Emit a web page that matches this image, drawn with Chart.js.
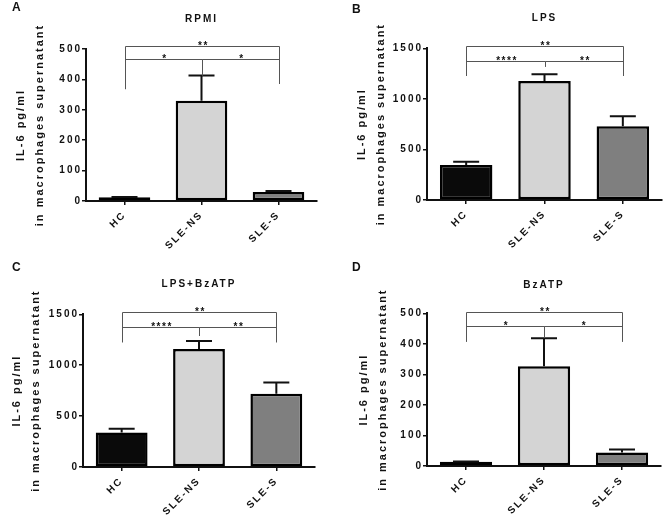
<!DOCTYPE html>
<html>
<head>
<meta charset="utf-8">
<script src="https://cdn.jsdelivr.net/npm/chart.js@4.4.1/dist/chart.umd.min.js"></script>
<style>
  body { margin: 0; background: #fff; }
  #wrap { position: relative; width: 664px; height: 524px; }
  .panel { position: absolute; width: 332px; height: 262px; }
  .tag { position: absolute; font: bold 12px "Liberation Sans", Arial, sans-serif; color: #111; }
</style>
</head>
<body>
<div id="wrap">
  <div class="panel" style="left:0;top:0"><canvas id="chartA"></canvas></div>
  <div class="panel" style="left:332px;top:0"><canvas id="chartB"></canvas></div>
  <div class="panel" style="left:0;top:262px"><canvas id="chartC"></canvas></div>
  <div class="panel" style="left:332px;top:262px"><canvas id="chartD"></canvas></div>
  <div class="tag" style="left:12px;top:0">A</div>
  <div class="tag" style="left:352px;top:2px">B</div>
  <div class="tag" style="left:12px;top:260px">C</div>
  <div class="tag" style="left:352px;top:260px">D</div>
</div>
<script>
// groups on the x axis
const groups = ["HC", "SLE-NS", "SLE-S"];
const barColors = ["#0a0a0a", "#d4d4d4", "#7f7f7f"];

// mean and SEM per panel (pg/ml)
const rpmiMean = [12, 330, 30];
const rpmiSem = [1, 83, 3];
const lpsMean = [345, 1177, 730];
const lpsSem = [33, 66, 99];
const lpsBzMean = [339, 1160, 719];
const lpsBzSem = [36, 78, 111];
const bzMean = [14, 327, 44];
const bzSem = [1, 91, 10];

// significance brackets: from/to group index, line level, drop ends
const rpmiSig = [
  { from: 0, to: 2, level: 510, dropA: 368, dropB: 385, text: "**" },
  { from: 0, to: 1, level: 466, dropA: 368, dropB: 413, text: "*" },
  { from: 1, to: 2, level: 466, dropA: 413, dropB: 385, text: "*" },
];
const lpsSig = [
  { from: 0, to: 2, level: 1526, dropA: 1226, dropB: 1226, text: "**" },
  { from: 0, to: 1, level: 1377, dropA: 1226, dropB: 1318, text: "****" },
  { from: 1, to: 2, level: 1377, dropA: 1318, dropB: 1226, text: "**" },
];
const lpsBzSig = [
  { from: 0, to: 2, level: 1520, dropA: 1225, dropB: 1225, text: "**" },
  { from: 0, to: 1, level: 1378, dropA: 1225, dropB: 1287, text: "****" },
  { from: 1, to: 2, level: 1378, dropA: 1287, dropB: 1225, text: "**" },
];
const bzSig = [
  { from: 0, to: 2, level: 505, dropA: 407, dropB: 407, text: "**" },
  { from: 0, to: 1, level: 459, dropA: 407, dropB: 420, text: "*" },
  { from: 1, to: 2, level: 459, dropA: 420, dropB: 407, text: "*" },
];

const yTitle = ["IL-6 pg/ml", "in macrophages supernatant"];
const FONT = "'Liberation Sans', Arial, sans-serif";

Chart.defaults.font.family = FONT;
Chart.defaults.color = "#111";

// prism style wide letters
const spacing = {
  id: "spacing",
  beforeLayout(chart) { chart.ctx.letterSpacing = "2px"; },
  beforeDraw(chart) { chart.ctx.letterSpacing = "2px"; },
};

const errorBars = {
  id: "errorBars",
  afterDatasetsDraw(chart) {
    const ctx = chart.ctx;
    const y = chart.scales.y;
    const ds = chart.data.datasets[0];
    ctx.save();
    ctx.strokeStyle = "#111";
    ctx.lineWidth = 2;
    chart.getDatasetMeta(0).data.forEach((bar, i) => {
      const top = y.getPixelForValue(ds.data[i] + ds.sem[i]);
      const base = y.getPixelForValue(ds.data[i]);
      ctx.beginPath();
      ctx.moveTo(bar.x, base);
      ctx.lineTo(bar.x, top);
      ctx.moveTo(bar.x - 13, top);
      ctx.lineTo(bar.x + 13, top);
      ctx.stroke();
    });
    ctx.restore();
  },
};

const sigBrackets = {
  id: "sigBrackets",
  afterDraw(chart) {
    const { ctx, scales: { x, y } } = chart;
    const sig = chart.data.datasets[0].sig;
    ctx.save();
    ctx.strokeStyle = "#555";
    ctx.lineWidth = 1;
    ctx.fillStyle = "#111";
    ctx.font = "bold 10px " + FONT;
    ctx.textAlign = "center";
    ctx.letterSpacing = "1.5px";
    sig.forEach((s) => {
      const xa = Math.round(x.getPixelForValue(s.from)) + 0.5;
      const xb = Math.round(x.getPixelForValue(s.to)) + 0.5;
      const yl = Math.round(y.getPixelForValue(s.level)) + 0.5;
      ctx.beginPath();
      ctx.moveTo(xa, y.getPixelForValue(s.dropA));
      ctx.lineTo(xa, yl);
      ctx.lineTo(xb, yl);
      ctx.lineTo(xb, y.getPixelForValue(s.dropB));
      ctx.stroke();
      ctx.fillText(s.text, (xa + xb) / 2 + 1, yl + 2);
    });
    ctx.restore();
  },
};

function makeChart(id, title, means, sem, sig, yMax, step, box) {
  return new Chart(document.getElementById(id), {
    type: "bar",
    data: {
      labels: groups,
      datasets: [{
        data: means,
        sem: sem,
        sig: sig,
        backgroundColor: barColors,
        borderColor: "#000",
        borderWidth: 2.5,
        borderSkipped: false,
        barPercentage: 0.67,
        categoryPercentage: 1,
      }],
    },
    options: {
      responsive: true,
      maintainAspectRatio: false,
      animation: false,
      layout: { padding: { left: 0, right: box.right, top: 0, bottom: 0 } },
      plugins: {
        legend: { display: false },
        tooltip: { enabled: false },
        title: {
          display: true,
          text: title,
          fullSize: false,
          color: "#111",
          font: { size: 10, weight: "bold" },
          padding: { top: box.titleTop, bottom: box.titleBottom },
        },
      },
      scales: {
        x: {
          grid: {
            drawOnChartArea: false,
            drawTicks: true,
            tickLength: 4,
            offset: false,
            color: "#111",
            lineWidth: 1.5,
          },
          border: { color: "#111", width: 2 },
          ticks: {
            minRotation: 45,
            maxRotation: 45,
            padding: 4,
            color: "#111",
            font: { size: 10, weight: "bold" },
          },
          afterFit: (s) => { s.height = box.xHeight; },
        },
        y: {
          min: 0,
          max: yMax,
          ticks: {
            stepSize: step,
            padding: 0,
            color: "#111",
            font: { size: 10, weight: "bold" },
            callback: (v) => String(v),
          },
          grid: { drawOnChartArea: false, tickLength: 4, color: "#111", lineWidth: 1.5 },
          border: { color: "#111", width: 2 },
          title: {
            display: true,
            text: yTitle,
            color: "#111",
            font: { size: 11, weight: "bold", lineHeight: 1.75 },
            padding: { top: box.yTitle, bottom: 0 },
          },
          afterFit: (s) => { s.width = box.axisX; },
        },
      },
    },
    plugins: [spacing, errorBars, sigBrackets],
  });
}

makeChart("chartA", "RPMI", rpmiMean, rpmiSem, rpmiSig, 500, 100,
  { axisX: 86, right: 15, titleTop: 13, titleBottom: 24, xHeight: 61, yTitle: 11 });
makeChart("chartB", "LPS", lpsMean, lpsSem, lpsSig, 1500, 500,
  { axisX: 95, right: 2, titleTop: 12.5, titleBottom: 23.8, xHeight: 62, yTitle: 20 });
makeChart("chartC", "LPS+BzATP", lpsBzMean, lpsBzSem, lpsBzSig, 1500, 500,
  { axisX: 83, right: 17, titleTop: 16, titleBottom: 24.3, xHeight: 57, yTitle: 7 });
makeChart("chartD", "BzATP", bzMean, bzSem, bzSig, 500, 100,
  { axisX: 95, right: 3, titleTop: 17.5, titleBottom: 21.8, xHeight: 58, yTitle: 22 });
</script>
</body>
</html>
